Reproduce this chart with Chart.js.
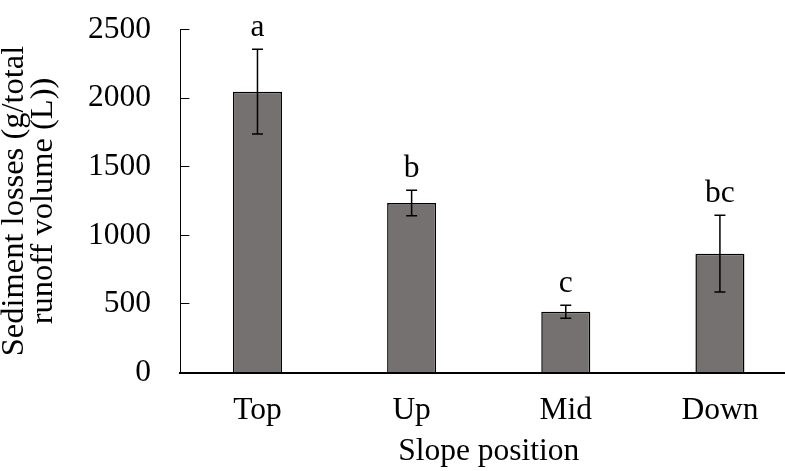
<!DOCTYPE html>
<html>
<head>
<meta charset="utf-8">
<script src="https://cdn.jsdelivr.net/npm/chart.js@4.4.1/dist/chart.umd.min.js"></script>
<style>
  html, body { margin: 0; padding: 0; background: #fff; }
  #wrap { width: 785px; height: 471px; overflow: hidden; position: relative; }
  #box { width: 797px; height: 471px; position: absolute; left: 0; top: 0; }
</style>
</head>
<body>
<div id="wrap"><div id="box"><canvas id="chart"></canvas></div></div>
<script>
const categories = ['Top', 'Up', 'Mid', 'Down'];
const means = [2047, 1235, 443, 866];
const errors = [309, 93, 48, 280];
const letters = ['a', 'b', 'c', 'bc'];
const yTicks = [0, 500, 1000, 1500, 2000, 2500];

const serif = "'Times New Roman', 'Liberation Serif', serif";
const fontSize = 31.5;

// error bars + significance letters drawn on top of the bars
const errorBars = {
  id: 'errorBars',
  afterDatasetsDraw(chart) {
    const { ctx, scales: { y } } = chart;
    const meta = chart.getDatasetMeta(0);
    ctx.save();
    ctx.strokeStyle = '#000';
    ctx.lineWidth = 1.5;
    meta.data.forEach((bar, i) => {
      const x = bar.x;
      const hi = y.getPixelForValue(means[i] + errors[i]);
      const lo = y.getPixelForValue(means[i] - errors[i]);
      const cap = 5.5;
      ctx.beginPath();
      ctx.moveTo(x, hi); ctx.lineTo(x, lo);
      ctx.moveTo(x - cap, hi); ctx.lineTo(x + cap, hi);
      ctx.moveTo(x - cap, lo); ctx.lineTo(x + cap, lo);
      ctx.stroke();

      ctx.fillStyle = '#000';
      ctx.font = `${fontSize}px ${serif}`;
      ctx.textAlign = 'center';
      ctx.textBaseline = 'alphabetic';
      ctx.fillText(letters[i], x, hi - 13);
    });
    ctx.restore();
  }
};

new Chart(document.getElementById('chart'), {
  type: 'bar',
  data: {
    labels: categories,
    datasets: [{
      data: means,
      backgroundColor: '#767171',
      borderColor: '#000',
      borderWidth: 1.5,
      categoryPercentage: 1,
      barPercentage: 0.318
    }]
  },
  options: {
    responsive: true,
    maintainAspectRatio: false,
    animation: false,
    layout: { padding: { top: 29.5, right: 0, bottom: 0, left: 0 } },
    plugins: {
      legend: { display: false },
      tooltip: { enabled: false }
    },
    scales: {
      x: {
        grid: { display: false, drawTicks: false },
        border: { display: true, color: '#000', width: 2 },
        ticks: {
          color: '#000',
          padding: 19,
          font: { family: serif, size: fontSize }
        },
        title: {
          display: true,
          text: 'Slope position',
          color: '#000',
          padding: { top: 0, bottom: 0 },
          font: { family: serif, size: fontSize }
        },
        afterFit(scale) { scale.height = 98.5; }
      },
      y: {
        min: 0,
        max: 2500,
        afterBuildTicks(scale) { scale.ticks = yTicks.map(v => ({ value: v })); },
        grid: {
          drawOnChartArea: false,
          drawTicks: true,
          tickLength: -9,
          color: '#000',
          lineWidth: 1
        },
        border: { display: true, color: '#000', width: 1 },
        ticks: {
          color: '#000',
          padding: 38.5,
          font: { family: serif, size: fontSize },
          callback: (v) => String(v)
        },
        title: {
          display: true,
          text: ['Sediment losses (g/total', 'runoff volume (L))'],
          color: '#000',
          padding: { top: 0, bottom: 0 },
          font: { family: serif, size: 32.5, lineHeight: 0.9 }
        },
        afterFit(scale) {
          scale.width = 180.4;
          scale.paddingTop = 0;
          scale.paddingBottom = 0;
        }
      }
    }
  },
  plugins: [errorBars]
});
</script>
</body>
</html>
